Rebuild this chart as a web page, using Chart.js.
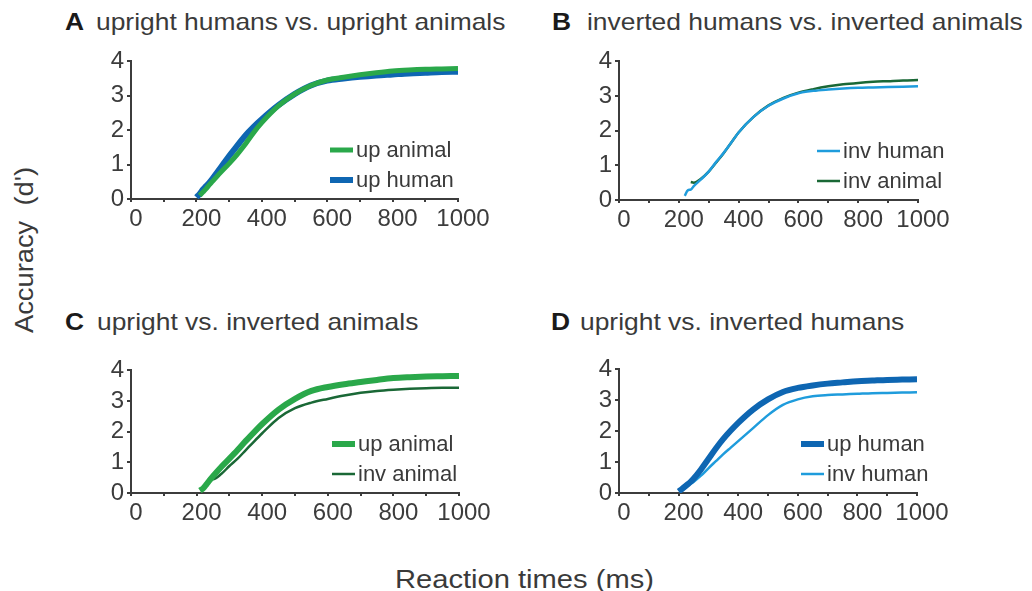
<!DOCTYPE html>
<html>
<head>
<meta charset="utf-8">
<script src="https://cdn.jsdelivr.net/npm/chart.js@4.4.1/dist/chart.umd.min.js"></script>
<style>
body { margin: 0; background: #fff; font-family: "Liberation Sans", Arial, sans-serif; color: #3a3a3a; }
#wrap { position: relative; width: 1032px; height: 591px; overflow: hidden; }
.title, .letter { position: absolute; font-size: 24px; line-height: 24px; white-space: nowrap; transform: scaleX(1.1); transform-origin: 0 0; }
.letter { font-weight: bold; color: #1a1a1a; }
canvas { position: absolute; }
#xlabel { position: absolute; left: 395px; top: 566px; transform: scaleX(1.12); transform-origin: 0 0; font-size: 26px; line-height: 26px; white-space: nowrap; }
#ylabel { position: absolute; left: 24px; top: 250px; transform: translate(-50%, -50%) rotate(-90deg) scaleX(1.05); font-size: 26px; line-height: 26px; white-space: pre; }
</style>
</head>
<body>
<div id="wrap">
	<div class="letter" style="left:65px; top:10px;">A</div>
	<div class="title" style="left:96px; top:10px;">upright humans vs. upright animals</div>
	<div class="letter" style="left:552px; top:10px;">B</div>
	<div class="title" style="left:587px; top:10px;">inverted humans vs. inverted animals</div>
	<div class="letter" style="left:65px; top:310px;">C</div>
	<div class="title" style="left:97px; top:310px;">upright vs. inverted animals</div>
	<div class="letter" style="left:551px; top:310px;">D</div>
	<div class="title" style="left:580px; top:310px;">upright vs. inverted humans</div>

	<canvas id="chartA" width="407" height="200" style="left:86px; top:44px;"></canvas>
	<canvas id="chartB" width="379" height="201" style="left:574px; top:44px;"></canvas>
	<canvas id="chartC" width="408" height="185" style="left:86px; top:353px;"></canvas>
	<canvas id="chartD" width="378" height="186" style="left:574px; top:352px;"></canvas>

	<div id="ylabel">Accuracy  (d')</div>
	<div id="xlabel">Reaction times (ms)</div>
</div>

<script>
// reaction time grid (ms), shared by every curve
const rtMs = [200, 210, 220, 230, 240, 250, 275, 300, 325, 350, 375, 400, 450, 500, 550, 600, 650, 700, 750, 800, 850, 900, 950, 1000];
const xTicks = [0, 200, 400, 600, 800, 1000];
const yTicks = [0, 1, 2, 3, 4];

// A: upright humans vs upright animals
const upAnimalA = [null, 0.10, 0.20, 0.30, 0.42, 0.52, 0.78, 1.03, 1.30, 1.60, 1.93, 2.22, 2.70, 3.05, 3.30, 3.46, 3.54, 3.61, 3.67, 3.72, 3.75, 3.77, 3.78, 3.79];
const upHumanA  = [0.05, 0.15, 0.28, 0.38, 0.48, 0.60, 0.92, 1.25, 1.55, 1.85, 2.10, 2.32, 2.72, 3.05, 3.30, 3.44, 3.50, 3.55, 3.59, 3.62, 3.65, 3.67, 3.69, 3.70];

// B: inverted humans vs inverted animals
const invHumanB  = [null, null, 0.12, 0.28, 0.30, 0.40, 0.60, 0.82, 1.10, 1.36, 1.65, 1.95, 2.40, 2.72, 2.93, 3.08, 3.15, 3.19, 3.22, 3.24, 3.25, 3.26, 3.27, 3.28];
const invAnimalB = [null, null, null, null, 0.52, 0.50, 0.62, 0.82, 1.08, 1.35, 1.65, 1.95, 2.40, 2.73, 2.95, 3.10, 3.20, 3.28, 3.34, 3.38, 3.41, 3.43, 3.45, 3.46];

// C: upright vs inverted animals
const upAnimalC  = [null, 0.08, 0.15, 0.28, 0.42, 0.55, 0.85, 1.12, 1.40, 1.70, 1.98, 2.25, 2.72, 3.07, 3.33, 3.46, 3.55, 3.62, 3.69, 3.75, 3.78, 3.80, 3.81, 3.82];
const invAnimalC = [null, null, null, null, 0.48, 0.45, 0.62, 0.88, 1.12, 1.40, 1.68, 1.95, 2.45, 2.77, 2.95, 3.07, 3.18, 3.27, 3.33, 3.37, 3.40, 3.42, 3.43, 3.43];

// D: upright vs inverted humans
const upHumanD  = [0.05, 0.12, 0.20, 0.28, 0.36, 0.46, 0.76, 1.10, 1.44, 1.75, 2.02, 2.27, 2.70, 3.03, 3.27, 3.40, 3.48, 3.54, 3.58, 3.62, 3.64, 3.66, 3.67, 3.68];
const invHumanD = [null, 0.08, 0.15, 0.22, 0.30, 0.36, 0.56, 0.80, 1.03, 1.26, 1.47, 1.68, 2.10, 2.52, 2.85, 3.03, 3.13, 3.17, 3.19, 3.21, 3.23, 3.24, 3.25, 3.26];

const GREEN = '#2aa84a';
const BLUE = '#0e66b2';
const LIGHT_BLUE = '#1f9cdc';
const DARK_GREEN = '#1a6836';
const AXIS = '#3c3c3c';

Chart.defaults.font.family = '"Liberation Sans", Arial, sans-serif';

// small legend drawn inside the plot, lower right
const insetLegend = {
	id: 'insetLegend',
	afterDatasetsDraw(chart, args, opts) {
		const c = chart.ctx;
		const area = chart.chartArea;
		c.save();
		c.font = '22px "Liberation Sans", Arial, sans-serif';
		c.textBaseline = 'middle';
		chart.data.datasets.forEach(function(ds, i) {
			const x0 = area.left + opts.x;
			const y = area.bottom - opts.bottom + i * 30;
			c.strokeStyle = ds.borderColor;
			c.lineWidth = Math.min(ds.borderWidth, 6);
			c.beginPath();
			c.moveTo(x0, y);
			c.lineTo(x0 + 23, y);
			c.stroke();
			c.fillStyle = '#3a3a3a';
			c.fillText(ds.label, x0 + 26, y + 1);
		});
		c.restore();
	}
};

function series(label, values, color, width) {
	return {
		label: label,
		data: rtMs.map(function(t, i) { return { x: t, y: values[i] }; }),
		borderColor: color,
		backgroundColor: color,
		borderWidth: width,
		pointRadius: 0,
		cubicInterpolationMode: 'monotone',
		spanGaps: false
	};
}

function makePanel(id, datasets, legendX) {
	const ctx = document.getElementById(id).getContext('2d');
	return new Chart(ctx, {
		type: 'line',
		data: { datasets: datasets },
		options: {
			responsive: false,
			animation: false,
			devicePixelRatio: 1,
			layout: { padding: { left: 0, right: 35, top: 15, bottom: 0 } },
			plugins: {
				legend: { display: false },
				tooltip: { enabled: false },
				insetLegend: { x: legendX, bottom: 49 }
			},
			scales: {
				x: {
					type: 'linear',
					min: xTicks[0],
					max: xTicks[xTicks.length - 1],
					afterFit: function(s) { s.height = 45; },
					grid: { drawOnChartArea: false, drawTicks: true, tickLength: 3, color: AXIS, lineWidth: 2 },
					border: { color: AXIS, width: 2 },
					ticks: {
						stepSize: 100,
						autoSkip: false,
						maxRotation: 0,
						padding: 3,
						labelOffset: 5,
						color: AXIS,
						font: { size: 24 },
						callback: function(v) { return xTicks.indexOf(v) >= 0 ? String(v) : ''; }
					}
				},
				y: {
					min: yTicks[0],
					max: yTicks[yTicks.length - 1],
					afterFit: function(s) { s.width = 45; },
					grid: { drawOnChartArea: false, drawTicks: true, tickLength: 4, color: AXIS, lineWidth: 2 },
					border: { color: AXIS, width: 2 },
					ticks: {
						stepSize: 1,
						autoSkip: false,
						padding: 3,
						color: AXIS,
						font: { size: 24 }
					}
				}
			}
		},
		plugins: [insetLegend]
	});
}

document.addEventListener("DOMContentLoaded", function() {
	makePanel('chartA', [
		series('up animal', upAnimalA, GREEN, 5),
		series('up human', upHumanA, BLUE, 6)
	], 199);
	makePanel('chartB', [
		series('inv human', invHumanB, LIGHT_BLUE, 2.5),
		series('inv animal', invAnimalB, DARK_GREEN, 2.5)
	], 198);
	makePanel('chartC', [
		series('up animal', upAnimalC, GREEN, 6),
		series('inv animal', invAnimalC, DARK_GREEN, 2.5)
	], 201);
	makePanel('chartD', [
		series('up human', upHumanD, BLUE, 6),
		series('inv human', invHumanD, LIGHT_BLUE, 2.5)
	], 182);
});
</script>
</body>
</html>
